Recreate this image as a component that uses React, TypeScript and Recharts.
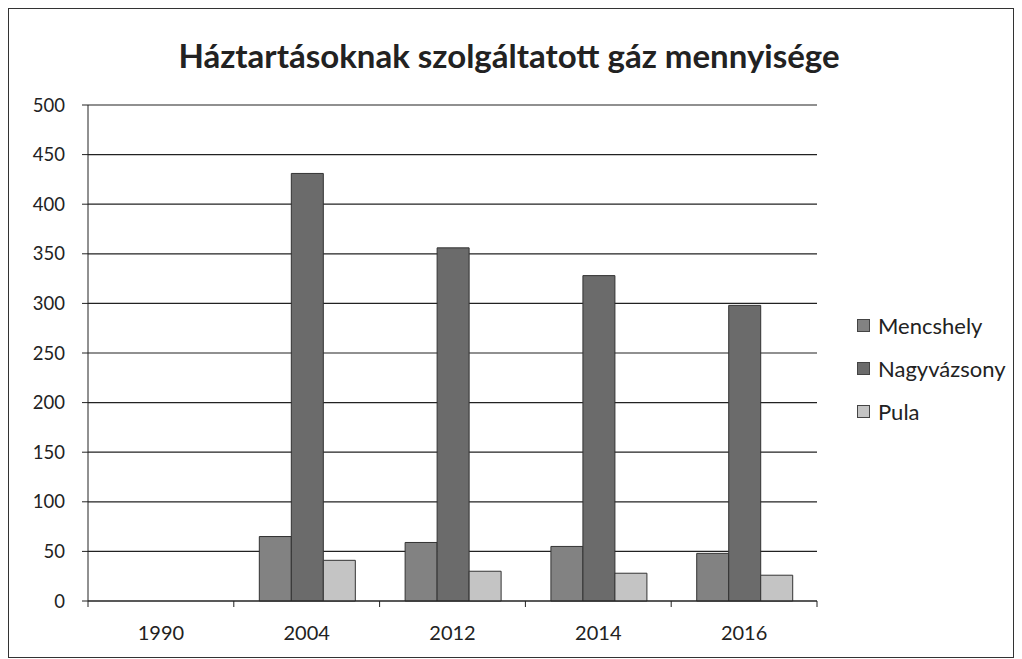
import { BarChart, Bar, XAxis, YAxis, CartesianGrid, Legend } from "recharts";

const years = ["1990", "2004", "2012", "2014", "2016"];
const mencshely = [0, 65, 59, 55, 48];
const nagyvazsony = [0, 431, 356, 328, 298];
const pula = [0, 41, 30, 28, 26];
const yTicks = [0, 50, 100, 150, 200, 250, 300, 350, 400, 450, 500];

const series = [
  { key: "mencshely", name: "Mencshely", color: "#828282" },
  { key: "nagyvazsony", name: "Nagyvázsony", color: "#6b6b6b" },
  { key: "pula", name: "Pula", color: "#c4c4c4" },
];

const data = years.map((year, i) => ({
  year,
  mencshely: mencshely[i] || null,
  nagyvazsony: nagyvazsony[i] || null,
  pula: pula[i] || null,
}));

const W = 1006;
const H = 650;
const margin = { top: 96, right: 198, left: 25, bottom: 28 };
const font = "Lato, 'Open Sans', sans-serif";
const plotWidth = W - margin.left - 54 - margin.right;
const band = plotWidth / years.length;

const XTick = ({ x, y, payload, index }: any) => (
  <g>
    <line x1={x - band / 2} x2={x - band / 2} y1={y - 8} y2={y - 2} stroke="#222" />
    {index === years.length - 1 && (
      <line x1={x + band / 2} x2={x + band / 2} y1={y - 8} y2={y - 2} stroke="#222" />
    )}
    <text x={x} y={y + 31} textAnchor="middle" fontSize={20} fill="#222" fontFamily={font}>
      {payload.value}
    </text>
  </g>
);

const LegendBox = () => (
  <div style={{ fontFamily: font, fontSize: 22, color: "#222" }}>
    {series.map((s) => (
      <div key={s.key} style={{ display: "flex", alignItems: "center", height: 43 }}>
        <span
          style={{
            width: 11,
            height: 11,
            background: s.color,
            border: "1px solid #444",
            marginRight: 8,
          }}
        />
        {s.name}
      </div>
    ))}
  </div>
);

export default function App() {
  return (
    <div
      style={{
        position: "relative",
        width: W,
        height: H,
        border: "1px solid #333",
        boxSizing: "border-box",
        background: "#fff",
      }}
    >
      <div
        style={{
          position: "absolute",
          top: 26,
          left: 0,
          width: 1000,
          textAlign: "center",
          fontFamily: font,
          fontWeight: 700,
          fontSize: 33,
          color: "#222",
        }}
      >
        Háztartásoknak szolgáltatott gáz mennyisége
      </div>
      <BarChart
        width={W}
        height={H}
        data={data}
        margin={margin}
        barGap={0}
        barCategoryGap="17.5%"
        style={{ position: "absolute", top: 0, left: 0 }}
      >
        <CartesianGrid vertical={false} stroke="#222" strokeWidth={1.2} />
        <XAxis
          dataKey="year"
          tickLine={false}
          axisLine={{ stroke: "#222" }}
          height={30}
          tick={<XTick />}
          interval={0}
        />
        <YAxis
          width={54}
          domain={[0, 500]}
          ticks={yTicks}
          interval={0}
          tickSize={6}
          tickMargin={17}
          axisLine={{ stroke: "#222" }}
          tickLine={{ stroke: "#222" }}
          tick={{ fontSize: 18.5, fill: "#222", fontFamily: font }}
        />
        <Legend
          layout="horizontal"
          verticalAlign="middle"
          align="center"
          content={<LegendBox />}
          wrapperStyle={{ left: 848, top: 295, width: 160 }}
        />
        {series.map((s) => (
          <Bar
            key={s.key}
            dataKey={s.key}
            name={s.name}
            fill={s.color}
            stroke="#333"
            strokeWidth={1}
            isAnimationActive={false}
          />
        ))}
      </BarChart>
    </div>
  );
}
